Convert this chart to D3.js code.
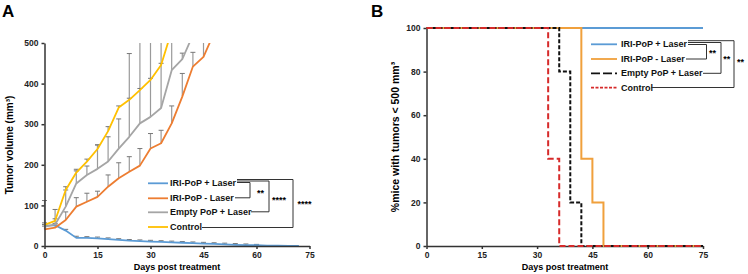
<!DOCTYPE html>
<html>
<head>
<meta charset="utf-8">
<script src="https://cdn.jsdelivr.net/npm/d3@7"></script>
<style>
  body { margin: 0; background: #fff; }
  svg { font-family: "Liberation Sans", Arial, sans-serif; font-weight: bold; }
  .axis path, .axis line { stroke: #333; stroke-width: 1.5; }
  .axis text { font-size: 8.5px; font-weight: bold; fill: #222; }
</style>
</head>
<body>
<svg id="chart" width="748" height="274"></svg>
<script>
// ---- panel A : tumour growth ----
const daysA = [0, 3, 6, 9, 12, 15, 18, 21, 24, 27, 30, 33, 36, 39, 42, 45, 48, 51, 54, 57, 60, 63, 66, 69, 72];
const iriLaser = [50, 51, 38, 20, 20, 19, 17, 15, 13, 12, 11, 10, 9, 8, 7, 6, 5, 4, 3, 2, 2, 1, 1, 0, 0];
const iriLaserErr = [3, 3, 3, 4, 3, 3, 3, 3, 3, 3, 3, 3, 3, 3, 3, 3, 3, 3, 3, 3, 2, 0, 0, 0, 0];
const iriNoLaser = [41, 45, 64, 97, 109, 121, 146, 167, 183, 198, 240, 253, 302, 368, 442, 466, 525];
const iriNoLaserErr = [8, 10, 20, 22, 21, 14, 29, 38, 37, 42, 37, 32, 43, 57, 35, 50, 0];
const emptyPoP = [47, 53, 97, 154, 175, 190, 208, 240, 269, 302, 318, 340, 433, 460, 520];
const emptyPoPErr = [65, 37, 41, 31, 22, 59, 61, 73, 205, 220, 220, 200, 100, 15, 0];
const control = [52, 62, 138, 181, 208, 239, 283, 341, 360, 384, 409, 446, 530];
const controlErr = [5, 5, 8, 8, 6, 10, 11, 4, 4, 4, 4, 4, 0];
const ticksA = [0, 15, 30, 45, 60, 75];
const ticksAY = [0, 100, 200, 300, 400, 500];

// ---- panel B : % mice with tumours < 500 mm3 ----
const kmLaserDays = [0, 75];
const kmLaserPct = [100, 100];
const kmNoLaserDays = [0, 42, 45, 48, 75];
const kmNoLaserPct = [100, 40, 20, 0, 0];
const kmEmptyDays = [0, 36, 39, 42, 75];
const kmEmptyPct = [100, 80, 20, 0, 0];
const kmControlDays = [0, 33, 36, 75];
const kmControlPct = [100, 40, 0, 0];
const ticksBY = [0, 20, 40, 60, 80, 100];

const labels = ['IRI-PoP + Laser', 'IRI-PoP - Laser', 'Empty PoP + Laser', 'Control'];

const svg = d3.select('#chart');

// ===== panel A =====
const xA = d3.scaleLinear().domain([0, 75]).range([44.5, 309.5]);
const yA = d3.scaleLinear().domain([0, 500]).range([246, 43]);

svg.append('clipPath').attr('id', 'clipA')
  .append('rect').attr('x', 40).attr('y', 43).attr('width', 280).attr('height', 210);

const seriesA = [
  { vals: iriLaser, err: iriLaserErr, color: '#5b9bd5' },
  { vals: iriNoLaser, err: iriNoLaserErr, color: '#ed7d31' },
  { vals: emptyPoP, err: emptyPoPErr, color: '#a5a5a5' },
  { vals: control, err: controlErr, color: '#ffc000' }
];

const plotA = svg.append('g').attr('clip-path', 'url(#clipA)');

// error bars (upper only)
seriesA.forEach(s => {
  s.vals.forEach((v, i) => {
    if (!s.err[i]) return;
    const x = xA(daysA[i]);
    plotA.append('line')
      .attr('x1', x).attr('x2', x)
      .attr('y1', yA(v)).attr('y2', yA(v + s.err[i]))
      .attr('stroke', '#9a9a9a').attr('stroke-width', 1.2);
    plotA.append('line')
      .attr('x1', x - 2.5).attr('x2', x + 2.5)
      .attr('y1', yA(v + s.err[i])).attr('y2', yA(v + s.err[i]))
      .attr('stroke', '#777').attr('stroke-width', 1);
  });
});

const lineA = d3.line().x((d, i) => xA(daysA[i])).y(d => yA(d));
seriesA.forEach(s => {
  plotA.append('path')
    .attr('d', lineA(s.vals))
    .attr('fill', 'none')
    .attr('stroke', s.color)
    .attr('stroke-width', 1.8)
    .attr('stroke-linejoin', 'round');
});

svg.append('g').attr('class', 'axis')
  .attr('transform', 'translate(0,246)')
  .call(d3.axisBottom(xA).tickValues(ticksA).tickSize(3).tickSizeOuter(0).tickPadding(3));
svg.append('g').attr('class', 'axis')
  .attr('transform', 'translate(44.5,0)')
  .call(d3.axisLeft(yA).tickValues(ticksAY).tickSize(3).tickSizeOuter(0).tickPadding(3));

svg.append('text').attr('x', 177).attr('y', 270).attr('text-anchor', 'middle')
  .attr('font-size', 9).text('Days post treatment');
svg.append('text').attr('transform', 'translate(13,145) rotate(-90)')
  .attr('text-anchor', 'middle').attr('font-size', 10)
  .text('Tumor volume (mm\u00b3)');
svg.append('text').attr('x', 2).attr('y', 17).attr('font-size', 17).text('A');

// legend A
const rowsA = [183.3, 198.3, 212.3, 227];
const legA = svg.append('g');
seriesA.forEach((s, i) => {
  legA.append('line').attr('x1', 148).attr('x2', 168)
    .attr('y1', rowsA[i]).attr('y2', rowsA[i])
    .attr('stroke', s.color).attr('stroke-width', 1.8);
  legA.append('text').attr('x', 170).attr('y', rowsA[i])
    .attr('dy', '0.35em').attr('font-size', 9).attr('fill', '#111')
    .text(labels[i]);
});

function bracket(g, x0, y0, xEnd, x1, y1) {
  g.append('path')
    .attr('d', `M${x0},${y0}H${xEnd}V${y1}H${x1}`)
    .attr('fill', 'none').attr('stroke', '#333').attr('stroke-width', 1);
}
bracket(legA, 237, 182.5, 250, 235, 197.8);
bracket(legA, 237, 181, 269, 251, 211.8);
bracket(legA, 237, 179.5, 293, 202, 227.5);
legA.append('text').attr('x', 257).attr('y', 193).attr('dy', '0.35em').attr('font-size', 9).text('**');
legA.append('text').attr('x', 272).attr('y', 199.5).attr('dy', '0.35em').attr('font-size', 9).text('****');
legA.append('text').attr('x', 297.5).attr('y', 204).attr('dy', '0.35em').attr('font-size', 9).text('****');

// ===== panel B =====
const xB = d3.scaleLinear().domain([0, 75]).range([426.5, 703]);
const yB = d3.scaleLinear().domain([0, 100]).range([246, 28]);

const seriesB = [
  { days: kmLaserDays, pct: kmLaserPct, color: '#5b9bd5', dash: null, legDash: null },
  { days: kmNoLaserDays, pct: kmNoLaserPct, color: '#f0a03c', dash: null, legDash: null },
  { days: kmEmptyDays, pct: kmEmptyPct, color: '#111', dash: '4,2', legDash: '9,3' },
  { days: kmControlDays, pct: kmControlPct, color: '#d62a2a', dash: '6,3', legDash: '3,1.5' }
];

svg.append('g').attr('class', 'axis')
  .attr('transform', 'translate(0,246)')
  .call(d3.axisBottom(xB).tickValues(ticksA).tickSize(3).tickSizeOuter(0).tickPadding(3));
svg.append('g').attr('class', 'axis')
  .attr('transform', 'translate(426.5,0)')
  .call(d3.axisLeft(yB).tickValues(ticksBY).tickSize(3).tickSizeOuter(0).tickPadding(3));

const stepB = d3.line().curve(d3.curveStepAfter);
seriesB.forEach(s => {
  svg.append('path')
    .attr('d', stepB(s.days.map((d, i) => [xB(d), yB(s.pct[i])])))
    .attr('fill', 'none')
    .attr('stroke', s.color)
    .attr('stroke-width', 2)
    .attr('stroke-dasharray', s.dash);
});

svg.append('text').attr('x', 565).attr('y', 270).attr('text-anchor', 'middle')
  .attr('font-size', 9).text('Days post treatment');
svg.append('text').attr('transform', 'translate(399,137) rotate(-90)')
  .attr('text-anchor', 'middle').attr('font-size', 10.5)
  .text('%mice with tumors < 500 mm\u00b3');
svg.append('text').attr('x', 371).attr('y', 17).attr('font-size', 17).text('B');

// legend B
const rowsB = [44.3, 59, 73.3, 87.7];
const legB = svg.append('g');
seriesB.forEach((s, i) => {
  legB.append('line').attr('x1', 591).attr('x2', 617)
    .attr('y1', rowsB[i]).attr('y2', rowsB[i])
    .attr('stroke', s.color).attr('stroke-width', 1.8)
    .attr('stroke-dasharray', s.legDash);
  legB.append('text').attr('x', 621).attr('y', rowsB[i])
    .attr('dy', '0.35em').attr('font-size', 9).attr('fill', '#111')
    .text(labels[i]);
});
bracket(legB, 688, 44.5, 706.5, 686, 59);
bracket(legB, 688, 42.5, 721, 703, 73.3);
bracket(legB, 688, 40.7, 734, 651, 87.5);
legB.append('text').attr('x', 709).attr('y', 53.3).attr('dy', '0.35em').attr('font-size', 9).text('**');
legB.append('text').attr('x', 723.3).attr('y', 59.3).attr('dy', '0.35em').attr('font-size', 9).text('**');
legB.append('text').attr('x', 737).attr('y', 62.3).attr('dy', '0.35em').attr('font-size', 9).text('**');
</script>
</body>
</html>
